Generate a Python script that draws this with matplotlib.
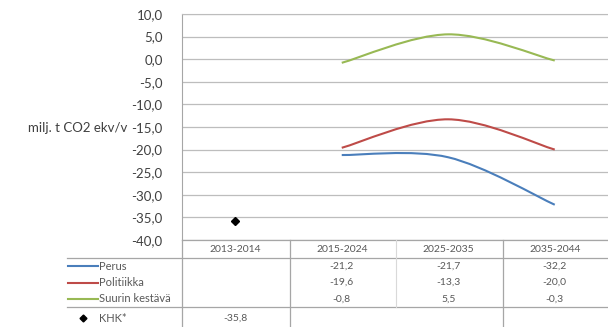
import numpy as np
import matplotlib.pyplot as plt
from matplotlib.path import Path
from matplotlib.patches import PathPatch
from matplotlib.lines import Line2D

categories = ['2013-2014', '2015-2024', '2025-2035', '2035-2044']
series_names = ['Perus', 'Politiikka', 'Suurin kestävä']
perus = [None, -21.2, -21.7, -32.2]
politiikka = [None, -19.6, -13.3, -20.0]
suurin = [None, -0.8, 5.5, -0.3]
khk = [-35.8, None, None, None]
yticks = [10, 5, 0, -5, -10, -15, -20, -25, -30, -35, -40]
colors = ['#4a7ebb', '#be4b48', '#98b954']

plt.rcParams['font.family'] = ['Lato', 'DejaVu Sans']

W, H = 608, 327
fig = plt.figure(figsize=(W / 100, H / 100), dpi=100)


def fx(px):
    return px / W


def fy(py):
    return 1 - py / H


ax = fig.add_axes([fx(182), fy(240), fx(608) - fx(182), fy(14) - fy(240)])
ax.set_xlim(-0.5, 3.5)
ax.set_ylim(-40, 10)
ax.set_yticks(yticks)
ax.set_yticklabels(['{:.1f}'.format(v).replace('.', ',') for v in yticks],
                   fontsize=9.5, color='#404040')
ax.tick_params(axis='y', length=0, pad=14)
ax.set_xticks([])
for v in yticks:
    ax.axhline(v, color='#bdbdbd', lw=0.9, zorder=0)
for s in ['right', 'bottom']:
    ax.spines[s].set_visible(False)
ax.spines['left'].set_color('#a6a6a6')
ax.spines['top'].set_color('#bdbdbd')


def smooth_path(vals):
    pts = [(i, v) for i, v in enumerate(vals) if v is not None]
    p = np.array(pts, dtype=float)
    verts = [tuple(p[0])]
    codes = [Path.MOVETO]
    n = len(p)
    for i in range(n - 1):
        p0 = p[i - 1] if i > 0 else p[i]
        p3 = p[i + 2] if i + 2 < n else p[i + 1]
        c1 = p[i] + (p[i + 1] - p0) / 6
        c2 = p[i + 1] - (p3 - p[i]) / 6
        verts += [tuple(c1), tuple(c2), tuple(p[i + 1])]
        codes += [Path.CURVE4] * 3
    return Path(verts, codes)


for vals, c in zip([perus, politiikka, suurin], colors):
    ax.add_patch(PathPatch(smooth_path(vals), fill=False, edgecolor=c, lw=1.5))

kx = [i for i, v in enumerate(khk) if v is not None]
ky = [v for v in khk if v is not None]
ax.plot(kx, ky, 'D', color='black', ms=4.5, clip_on=False)

fig.text(fx(127), fy(128), 'milj. t CO2 ekv/v', fontsize=9.5, color='#404040',
         va='center', ha='right')

# data table
line_c = '#a6a6a6'
fig.add_artist(Line2D([fx(67), fx(608)], [fy(257.5), fy(257.5)], color=line_c, lw=0.9))
fig.add_artist(Line2D([fx(67), fx(608)], [fy(307), fy(307)], color=line_c, lw=0.9))
fig.add_artist(Line2D([fx(182), fx(608)], [fy(240), fy(240)], color=line_c, lw=0.9))
for px in [182, 290, 503]:
    fig.add_artist(Line2D([fx(px), fx(px)], [fy(240), fy(327)], color=line_c, lw=0.9))
fig.add_artist(Line2D([fx(396), fx(396)], [fy(240), fy(307)], color='#d9d9d9', lw=0.8))

pos = ax.get_position()
cell_x = [pos.x0 + (i + 0.5) / 4 * pos.width for i in range(len(categories))]
tfs = 7.5
for i, cat in enumerate(categories):
    fig.text(cell_x[i], fy(249), cat, fontsize=tfs, color='#595959',
             ha='center', va='center')

row_y = [266, 282.5, 299]
fmt = lambda v: '{:.1f}'.format(v).replace('.', ',')
for vals, name, c, ry in zip([perus, politiikka, suurin], series_names, colors, row_y):
    fig.add_artist(Line2D([fx(68), fx(98)], [fy(ry), fy(ry)], color=c, lw=1.5))
    fig.text(fx(99), fy(ry), name, fontsize=8, color='#595959', va='center')
    for i, v in enumerate(vals):
        if v is not None:
            fig.text(cell_x[i], fy(ry), fmt(v), fontsize=tfs, color='#595959',
                     ha='center', va='center')

fig.add_artist(Line2D([fx(83)], [fy(318)], marker='D', color='black', ms=3.5))
fig.text(fx(99), fy(318), 'KHK*', fontsize=8, color='#595959', va='center')
for i, v in enumerate(khk):
    if v is not None:
        fig.text(cell_x[i], fy(318), fmt(v), fontsize=tfs, color='#595959',
                 ha='center', va='center')

fig.savefig('out.png', dpi=100)
